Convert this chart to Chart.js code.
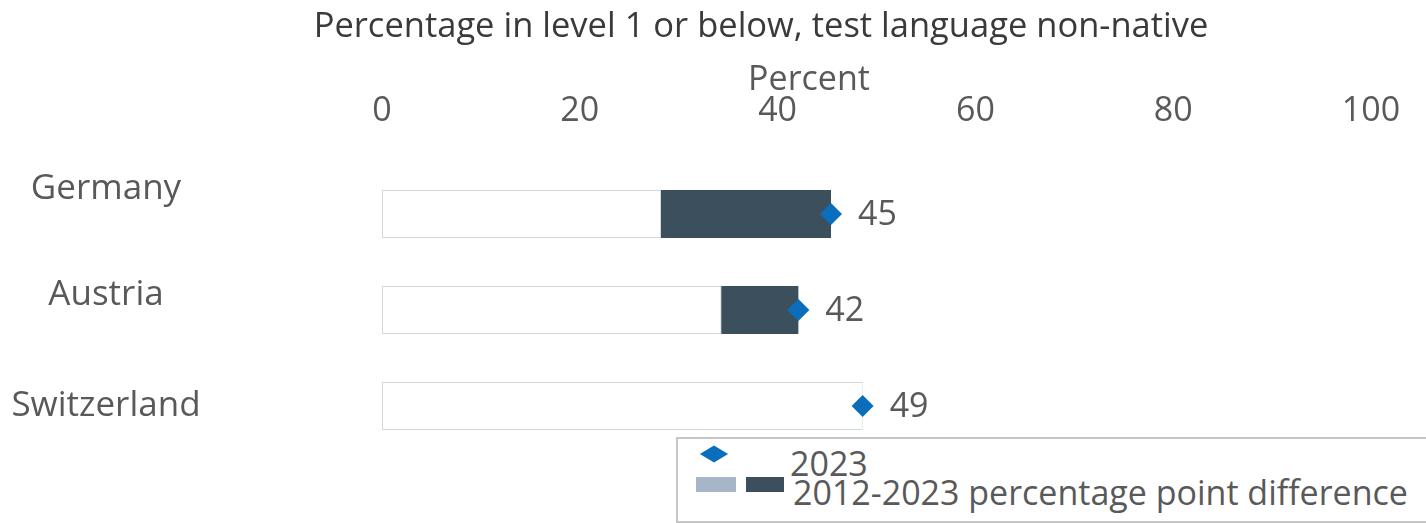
<!DOCTYPE html>
<html>
<head>
<meta charset="utf-8">
<script src="https://cdn.jsdelivr.net/npm/chart.js@4"></script>
<style>
  body { margin: 0; background: #fff; }
  #wrap { position: relative; width: 1426px; height: 523px; overflow: hidden; }
  #legend {
    position: absolute; left: 676px; top: 437px; width: 800px; height: 82px;
    border: 2px solid #c6c6c6; background: #fff;
    font-family: "Open Sans", sans-serif; color: #595959; font-size: 34px;
  }
  #legend .row { position: absolute; white-space: nowrap; line-height: 30px; }
  .diamond { position: absolute; width: 20px; height: 20px; background: #0a6ebd;
    transform: scaleY(0.6) rotate(45deg); }
  .sq { position: absolute; height: 15px; }
</style>
</head>
<body>
<div id="wrap">
  <canvas id="c" width="1426" height="523"></canvas>
  <div id="legend">
    <div class="diamond" style="left:26px; top:5px;"></div>
    <div class="row" style="left:112px; top:9px;">2023</div>
    <div class="sq" style="left:18px; top:38px; width:40px; background:#a6b6c8;"></div>
    <div class="sq" style="left:68px; top:38px; width:38px; background:#3b505c;"></div>
    <div class="row" style="left:115px; top:38px;">2012-2023 percentage point difference</div>
  </div>
</div>
<script>
// values
const countries = ['Germany', 'Austria', 'Switzerland'];
const lowerValues = [28.2, 34.3, 48.6];
const diffValues = [17.2, 7.8, 0];
const values2023 = [45.4, 42.1, 48.6];
const xTicks = [0, 20, 40, 60, 80, 100];

const chartTitle = 'Percentage in level 1 or below, test language non-native';
const axisTitle = 'Percent';

const textGrey = '#595959';
const fontFamily = '"Open Sans", sans-serif';

// headings, country names and value labels
const extras = {
  id: 'extras',
  afterDatasetsDraw(chart) {
    const ctx = chart.ctx;
    ctx.save();
    ctx.textBaseline = 'middle';
    ctx.textAlign = 'center';
    ctx.font = '34.5px ' + fontFamily;
    ctx.fillStyle = '#3a3a3a';
    ctx.fillText(chartTitle, 761, 27);
    ctx.fillStyle = textGrey;
    ctx.font = '34px ' + fontFamily;
    ctx.fillText(axisTitle, 809, 80);

    // country names sit a bit above their bars in the original
    const nudge = [-25, -15, 0];
    const yScale = chart.scales.y;
    ctx.font = '35px ' + fontFamily;
    countries.forEach((name, i) => {
      ctx.fillText(name, 106, yScale.getPixelForValue(i) + nudge[i]);
    });

    const meta = chart.getDatasetMeta(2);
    ctx.textAlign = 'left';
    ctx.font = '34px ' + fontFamily;
    meta.data.forEach((pt, i) => {
      ctx.fillText(Math.round(values2023[i]), pt.x + 27, pt.y + 1);
    });
    ctx.restore();
  }
};

new Chart(document.getElementById('c'), {
  type: 'bar',
  data: {
    labels: countries,
    datasets: [
      {
        label: 'base',
        data: lowerValues,
        backgroundColor: '#ffffff',
        borderColor: '#d0d7dc',
        borderWidth: 1,
        borderSkipped: false,
        categoryPercentage: 1,
        barPercentage: 0.5
      },
      {
        label: '2012-2023 percentage point difference',
        data: diffValues,
        backgroundColor: '#3b505c',
        borderWidth: 0,
        categoryPercentage: 1,
        barPercentage: 0.5
      },
      {
        type: 'line',
        label: '2023',
        data: values2023,
        order: -1,
        indexAxis: 'y',
        showLine: false,
        pointStyle: 'rectRot',
        pointRadius: 11,
        pointHoverRadius: 11,
        pointBackgroundColor: '#0a6ebd',
        pointBorderWidth: 0
      }
    ]
  },
  options: {
    indexAxis: 'y',
    responsive: false,
    animation: false,
    layout: { padding: { left: 0, right: 55, top: 0, bottom: 69 } },
    plugins: {
      legend: { display: false },
      tooltip: { enabled: false }
    },
    scales: {
      x: {
        position: 'top',
        stacked: true,
        min: 0,
        max: 100,
        afterBuildTicks(scale) {
          scale.ticks = xTicks.map(v => ({ value: v }));
        },
        afterFit(scale) {
          scale.height = 166;
          scale.paddingLeft = 0;
          scale.paddingRight = 0;
        },
        grid: { display: false, drawTicks: false },
        border: { display: false },
        ticks: {
          color: textGrey,
          font: { family: fontFamily, size: 34 },
          padding: 34,
          maxRotation: 0
        }
      },
      y: {
        stacked: true,
        afterFit(scale) {
          scale.width = 382;
          scale.paddingTop = 0;
          scale.paddingBottom = 0;
        },
        grid: { display: false, drawTicks: false },
        border: { display: false },
        ticks: { display: false }
      }
    }
  },
  plugins: [extras]
});
</script>
</body>
</html>
